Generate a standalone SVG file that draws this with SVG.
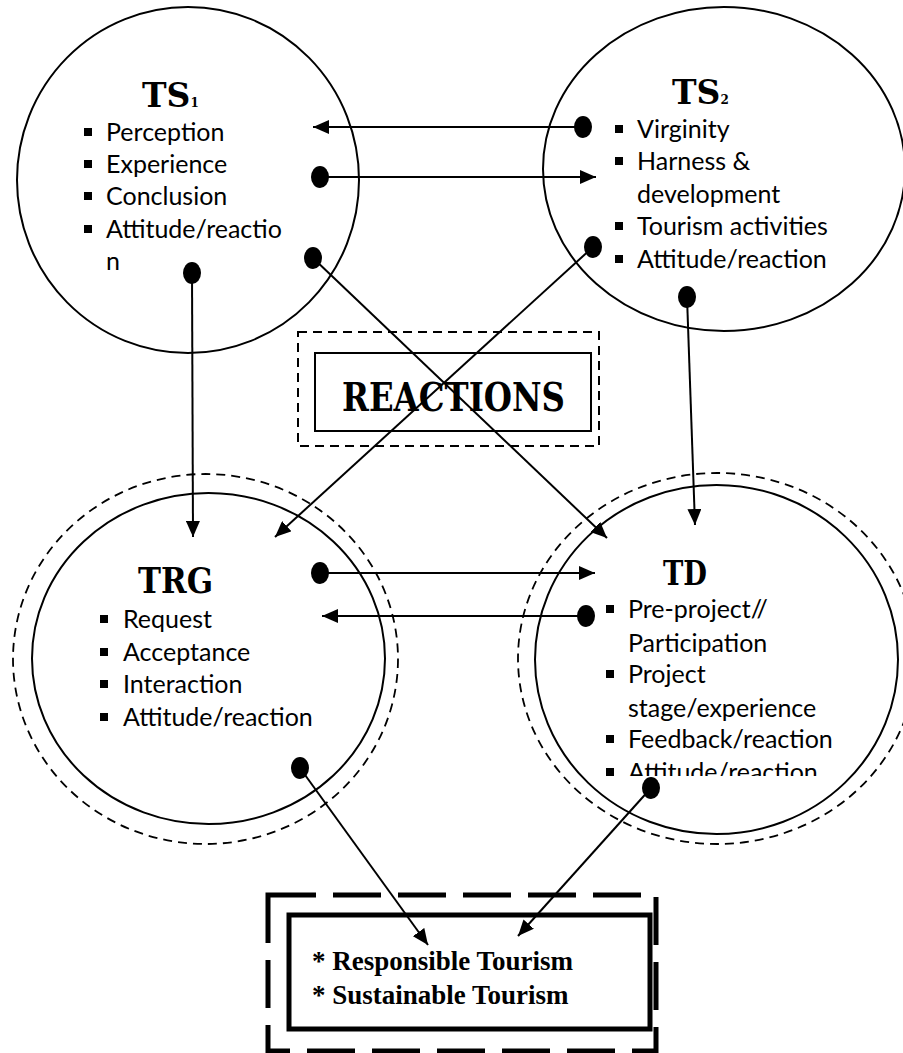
<svg xmlns="http://www.w3.org/2000/svg" width="903" height="1053" viewBox="0 0 903 1053">
<style>
.c{fill:none;stroke:#000;stroke-width:2}
.cd{fill:none;stroke:#000;stroke-width:1.8;stroke-dasharray:9 6}
.t{font-family:Lato,"Open Sans","Liberation Sans",sans-serif;font-size:25px;fill:#000}
.h{font-family:"DejaVu Serif","Liberation Serif",serif;font-weight:bold;fill:#000}
.sub{font-size:12px}
.b{fill:#000}
.ln{stroke:#000;stroke-width:2;fill:none}
.dot{fill:#000}
.bt{font-family:"Liberation Serif","Times New Roman",serif;font-weight:bold;font-size:27px;fill:#000}
</style>
<defs>
<marker id="arr" markerUnits="userSpaceOnUse" markerWidth="17" markerHeight="14" refX="16" refY="7" orient="auto">
<path d="M0,0 L16,7 L0,14 z" fill="#000"/>
</marker>
<clipPath id="tdclip"><rect x="500" y="450" width="403" height="326"/></clipPath>
</defs>

<g id="TS1">
<ellipse class="c" cx="188" cy="180" rx="171" ry="173"/>
<text class="h" x="142" y="107" font-size="33">TS<tspan class="sub">1</tspan></text>
<rect class="b" x="84" y="128" width="8" height="8"/>
<rect class="b" x="84" y="160" width="8" height="8"/>
<rect class="b" x="84" y="192" width="8" height="8"/>
<rect class="b" x="84" y="225" width="8" height="8"/>
<text class="t" x="106" y="141">Perception</text>
<text class="t" x="106" y="173">Experience</text>
<text class="t" x="106" y="205">Conclusion</text>
<text class="t" x="106" y="238">Attitude/reactio</text>
<text class="t" x="106" y="270">n</text>
</g>

<g id="TS2">
<ellipse class="c" cx="724" cy="169" rx="181" ry="162"/>
<text class="h" x="672" y="104" font-size="33">TS<tspan class="sub">2</tspan></text>
<rect class="b" x="615" y="125" width="8" height="8"/>
<rect class="b" x="615" y="157" width="8" height="8"/>
<rect class="b" x="615" y="222" width="8" height="8"/>
<rect class="b" x="615" y="255" width="8" height="8"/>
<text class="t" x="637" y="138">Virginity</text>
<text class="t" x="637" y="170">Harness &amp;</text>
<text class="t" x="637" y="203">development</text>
<text class="t" x="637" y="235">Tourism activities</text>
<text class="t" x="637" y="268">Attitude/reaction</text>
</g>

<g id="REACTIONS">
<rect x="298" y="332" width="301" height="114" fill="none" stroke="#000" stroke-width="2" stroke-dasharray="9 6"/>
<rect x="315" y="353" width="276" height="78" fill="none" stroke="#000" stroke-width="2"/>
<text class="h" x="342" y="411" font-size="40" textLength="223" lengthAdjust="spacingAndGlyphs">REACTIONS</text>
</g>

<g id="TRG">
<ellipse class="cd" cx="205.5" cy="659" rx="192.5" ry="185"/>
<ellipse class="c" cx="208.5" cy="658.5" rx="176.5" ry="165.5"/>
<text class="h" x="138" y="593" font-size="35" textLength="75" lengthAdjust="spacingAndGlyphs">TRG</text>
<rect class="b" x="100" y="615" width="8" height="8"/>
<rect class="b" x="100" y="648" width="8" height="8"/>
<rect class="b" x="100" y="680" width="8" height="8"/>
<rect class="b" x="100" y="713" width="8" height="8"/>
<text class="t" x="123" y="628">Request</text>
<text class="t" x="123" y="661">Acceptance</text>
<text class="t" x="123" y="693">Interaction</text>
<text class="t" x="123" y="726">Attitude/reaction</text>
</g>

<g id="TD">
<ellipse class="cd" cx="717" cy="658.5" rx="199" ry="185.5"/>
<ellipse class="c" cx="716.5" cy="659.5" rx="181.5" ry="174.5"/>
<text class="h" x="663" y="585" font-size="34" textLength="44" lengthAdjust="spacingAndGlyphs">TD</text>
<g clip-path="url(#tdclip)">
<rect class="b" x="606" y="605" width="8" height="8"/>
<rect class="b" x="606" y="670" width="8" height="8"/>
<rect class="b" x="606" y="735" width="8" height="8"/>
<rect class="b" x="606" y="768" width="8" height="8"/>
<text class="t" x="628" y="618">Pre-project//</text>
<text class="t" x="628" y="652">Participation</text>
<text class="t" x="628" y="683">Project</text>
<text class="t" x="628" y="717">stage/experience</text>
<text class="t" x="628" y="748">Feedback/reaction</text>
<text class="t" x="628" y="781">Attitude/reaction</text>
</g>
</g>

<g id="RESULT">
<rect x="268" y="895" width="388" height="156" fill="none" stroke="#000" stroke-width="5" stroke-dasharray="48 17"/>
<rect x="289" y="915" width="361" height="114" fill="none" stroke="#000" stroke-width="5"/>
<text class="bt" x="312" y="970">* Responsible Tourism</text>
<text class="bt" x="312" y="1004">* Sustainable Tourism</text>
</g>

<g id="connectors">
<line class="ln" x1="583" y1="127" x2="313" y2="127" marker-end="url(#arr)"/>
<ellipse class="dot" cx="583" cy="127" rx="9" ry="11"/>
<line class="ln" x1="320" y1="177" x2="596" y2="177" marker-end="url(#arr)"/>
<ellipse class="dot" cx="320" cy="177" rx="9" ry="11"/>
<line class="ln" x1="313" y1="258" x2="607" y2="538" marker-end="url(#arr)"/>
<ellipse class="dot" cx="313" cy="258" rx="9" ry="11"/>
<line class="ln" x1="192" y1="273" x2="193" y2="537" marker-end="url(#arr)"/>
<ellipse class="dot" cx="192" cy="273" rx="9" ry="11"/>
<line class="ln" x1="593" y1="247" x2="275" y2="537" marker-end="url(#arr)"/>
<ellipse class="dot" cx="593" cy="247" rx="9" ry="11"/>
<line class="ln" x1="687" y1="297" x2="695" y2="525" marker-end="url(#arr)"/>
<ellipse class="dot" cx="687" cy="297" rx="9" ry="11"/>
<line class="ln" x1="320" y1="573" x2="595" y2="573" marker-end="url(#arr)"/>
<ellipse class="dot" cx="320" cy="573" rx="9" ry="11"/>
<line class="ln" x1="586" y1="616" x2="322" y2="616" marker-end="url(#arr)"/>
<ellipse class="dot" cx="586" cy="616" rx="9" ry="11"/>
<line class="ln" x1="300" y1="768" x2="428" y2="945" marker-end="url(#arr)"/>
<ellipse class="dot" cx="300" cy="768" rx="9" ry="11"/>
<line class="ln" x1="651" y1="788" x2="518" y2="936" marker-end="url(#arr)"/>
<ellipse class="dot" cx="651" cy="788" rx="9" ry="11"/>
</g>
</svg>
